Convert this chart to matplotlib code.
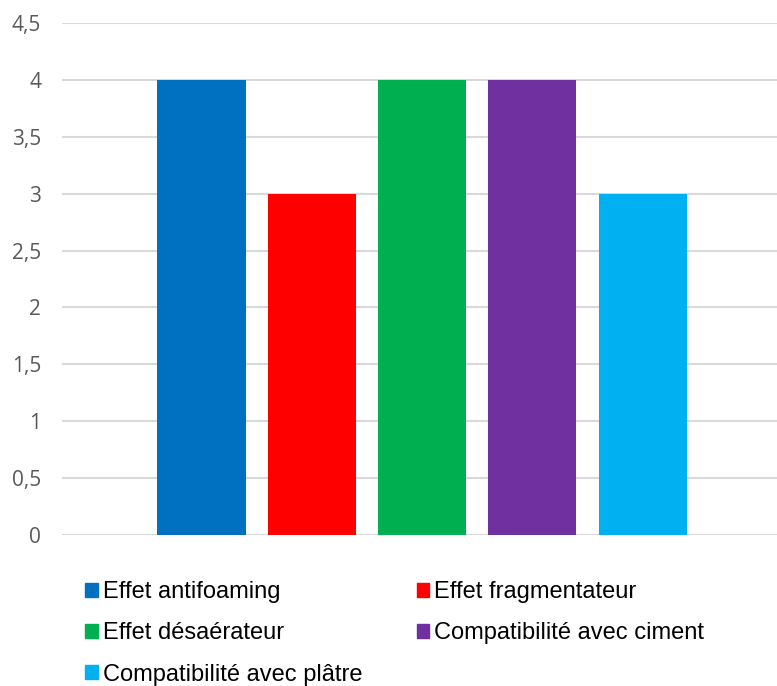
import numpy as np
import matplotlib.pyplot as plt
from matplotlib.patches import Patch

labels = ["Effet antifoaming", "Effet fragmentateur", "Effet désaérateur",
          "Compatibilité avec ciment", "Compatibilité avec plâtre"]
values = [4, 3, 4, 4, 3]
colors = ["#0070C0", "#FF0000", "#00B050", "#7030A0", "#00B0F0"]
yticks = [0, 0.5, 1, 1.5, 2, 2.5, 3, 3.5, 4, 4.5]

fig = plt.figure(figsize=(7.77, 6.86), dpi=100)
ax = fig.add_axes([62 / 777, (686 - 535) / 686, 1 - 62 / 777, 512 / 686])

x = np.arange(len(values))
ax.bar(x, values, width=0.8, color=colors, zorder=3)

ax.set_xlim(-1.264, 5.218)
ax.set_ylim(0, 4.5)
ax.set_yticks(yticks)
ax.set_yticklabels([str(t).replace(".", ",").replace(",0", "") for t in yticks],
                   fontsize=15, color="#595959", family="Open Sans")
ax.set_xticks([])
ax.tick_params(axis="y", length=0, pad=15)
ax.grid(axis="y", color="#d9d9d9", linewidth=1.5, zorder=0)
for s in ax.spines.values():
    s.set_visible(False)
ax.axhline(0, color="#d9d9d9", linewidth=1.5, zorder=2)

handles = [Patch(color=c) for c in colors]
order = [0, 2, 4, 1, 3]
fig.legend([handles[i] for i in order], [labels[i] for i in order],
           ncol=2, loc="upper left", bbox_to_anchor=(85 / 777, 1 - 581 / 686),
           frameon=False, prop={"family": "Liberation Sans", "size": 17},
           handlelength=0.55, handleheight=0.55, handletextpad=0.2,
           columnspacing=2.3, labelspacing=0.82, borderaxespad=0, borderpad=0)

fig.savefig("out.png", dpi=100)
